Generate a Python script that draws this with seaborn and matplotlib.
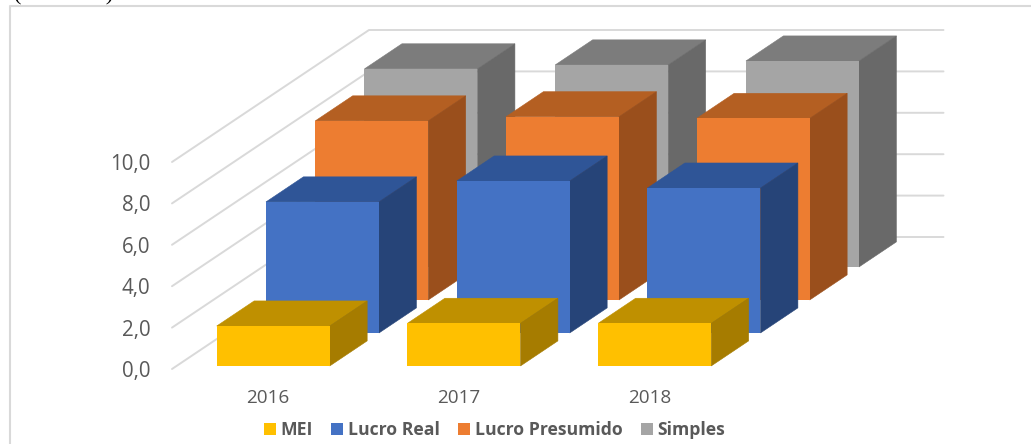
import matplotlib
matplotlib.use("Agg")
import matplotlib.pyplot as plt
from matplotlib.lines import Line2D
from matplotlib.patches import Patch
import pandas as pd
import seaborn as sns

years = ["2016", "2017", "2018"]
series_names = ["MEI", "Lucro Real", "Lucro Presumido", "Simples"]
mei = [1.93, 2.06, 2.06]
lucro_real = [6.33, 7.34, 7.00]
lucro_presumido = [8.65, 8.85, 8.77]
simples = [9.57, 9.76, 9.95]
y_ticks = [0, 2, 4, 6, 8, 10]
y_labels = ["0,0", "2,0", "4,0", "6,0", "8,0", "10,0"]

front_colors = ["#FFC000", "#4472C4", "#ED7D31", "#A5A5A5"]
top_colors = ["#BF9000", "#2F5597", "#B45F22", "#7C7C7C"]
side_colors = ["#A67C00", "#264478", "#9A4F1C", "#696969"]
text_color = "#595959"
grid_color = "#D9D9D9"

W, H = 1031, 444
sns.set_theme(style="white")
plt.rcParams["font.family"] = ["Open Sans", "DejaVu Sans"]

fig = plt.figure(figsize=(W / 100, H / 100), dpi=100, facecolor="white")
# plot box = front edge of the 3D floor, in pixels
px_left, px_right, px_y0, px_y10 = 172, 746.5, 369, 162
ax = fig.add_axes([px_left / W, 1 - px_y0 / H, (px_right - px_left) / W, (px_y0 - px_y10) / H])
ax.patch.set_alpha(0)
xlim = (-0.507, 2.505)
ylim = (0, 10)
unit_px = (px_right - px_left) / (xlim[1] - xlim[0])

# oblique projection: full chart depth expressed in data units
depth_x = 197 / unit_px
depth_y = 132 / 20.7
slot = 0.25          # depth of one series slot
gap = 0.023          # gap before the bar in its slot
bar_depth = 0.19
bar_width = 113 / unit_px


def project(x, v, d):
    return x + d * depth_x, v + d * depth_y


# back wall + side wall gridlines
for t in y_ticks:
    bx, by = project(xlim[0], t, 1)
    ex, _ = project(xlim[1], t, 1)
    ax.plot([xlim[0], bx, ex], [t, by, by], color=grid_color, lw=1.4,
            clip_on=False, zorder=1, solid_joinstyle="miter")

all_series = [mei, lucro_real, lucro_presumido, simples]
z = 2
for i in reversed(range(len(series_names))):
    d0 = i * slot + gap
    d1 = d0 + bar_depth
    xs, base = project(0, 0, d0)
    df = pd.DataFrame({"x": [k + xs for k in range(len(years))], "v": all_series[i]})
    for k, v in enumerate(all_series[i]):
        fx0, fy0 = project(k - bar_width / 2, 0, d0)
        fx1, fy1 = project(k + bar_width / 2, v, d0)
        bx0, by0 = project(k - bar_width / 2, 0, d1)
        bx1, by1 = project(k + bar_width / 2, v, d1)
        ax.fill([fx0, fx1, bx1, bx0], [fy1, fy1, by1, by1], facecolor=top_colors[i],
                edgecolor=top_colors[i], lw=0.4, clip_on=False, zorder=z)
        ax.fill([fx1, bx1, bx1, fx1], [fy0, by0, by1, fy1], facecolor=side_colors[i],
                edgecolor=side_colors[i], lw=0.4, clip_on=False, zorder=z)
    sns.barplot(data=df, x="x", y="v", native_scale=True, width=bar_width,
                color=front_colors[i], saturation=1, bottom=base, ax=ax,
                linewidth=0, clip_on=False, zorder=z + 1)
    z += 2

ax.set_xlim(*xlim)
ax.set_ylim(*ylim)
ax.set_xlabel("")
ax.set_ylabel("")
ax.set_xticks([k - 0.004 for k in range(len(years))], years)
ax.set_yticks(y_ticks, y_labels)
ax.tick_params(axis="y", length=0, pad=15.5, labelsize=14.8, labelcolor=text_color)
ax.tick_params(axis="x", length=0, pad=14.5, labelsize=13.6, labelcolor=text_color)
sns.despine(ax=ax, left=True, bottom=True)

handles = [Patch(facecolor=c, edgecolor="none", label=n) for c, n in zip(front_colors, series_names)]
fig.legend(handles=handles, loc="center", bbox_to_anchor=(494.5 / W, 1 - 430 / H), ncol=4,
           frameon=False, prop={"family": "Open Sans", "weight": "bold", "size": 12.7},
           labelcolor=text_color, handlelength=0.68, handleheight=0.68,
           handletextpad=0.28, columnspacing=1.02, borderpad=0)

# chart frame (cropped by the picture) and cropped caption above it
fig.add_artist(Line2D([9.5 / W, 9.5 / W, 1], [0, 1 - 6.5 / H, 1 - 6.5 / H], color=grid_color, lw=1.5))
fig.text(14 / W, 1.0, "(" + " " * 15 + ")", family="Liberation Serif", fontsize=16,
         color="black", va="baseline", ha="left")

fig.savefig("out.png", dpi=100)
